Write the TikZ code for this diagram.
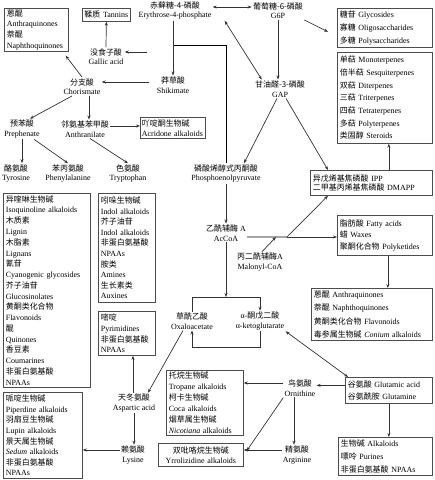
\documentclass[tikz,border=0pt]{standalone}
\usepackage{fontspec}
\setmainfont{Liberation Serif}
\newfontfamily\zhfont{Noto Sans CJK SC}
\newcommand\zh[1]{{\zhfont #1}}
\newcommand\linesp[1]{\fontsize{8}{#1}\selectfont}
\usetikzlibrary{arrows.meta}

\begin{document}
\begin{tikzpicture}[
       x=1bp, y=-1bp,
       line width=0.7bp,
       lbl/.style={
         align=center,
         inner sep=1bp,
         font=\linesp{9.5}
       },
       box/.style={
         draw=black!70,
         anchor=north west,
         align=left,
         inner xsep=2.5bp,
         inner ysep=1bp
       },
       arr/.style={draw=black!80, -{Stealth[length=4bp,width=3bp]}},
       dbl/.style={draw=black!80, {Stealth[length=4bp,width=3bp]}-{Stealth[length=4bp,width=3bp]}}
     ]
       \path[use as bounding box, fill=white] (0,0) rectangle (435,480);

       % sugars and shikimate pathway
       \node (e4p) at (175,10.5) [lbl]{\zh{赤藓糖-4-磷酸}\\Erythrose-4-phosphate};
       \node (g6p) at (278,10.5) [lbl]{\zh{葡萄糖-6-磷酸}\\G6P};
       \node (gap) at (280,89) [lbl]{\zh{甘油醛-3-磷酸}\\GAP};
       \node (gallic) at (106,56.5) [lbl]{\zh{没食子酸}\\Gallic acid};
       \node (shik) at (173,85) [lbl]{\zh{莽草酸}\\Shikimate};
       \node (chor) at (82,86.5) [lbl]{\zh{分支酸}\\Chorismate};
       \node (preph) at (22,129) [lbl]{\zh{预苯酸}\\Prephenate};
       \node (anthr) at (85,129) [lbl]{\zh{邻氨基苯甲酸}\\Anthranilate};
       \node (tyr) at (16,173.5) [lbl]{\zh{酪氨酸}\\Tyrosine};
       \node (phe) at (68,173.5) [lbl]{\zh{苯丙氨酸}\\Phenylalanine};
       \node (trp) at (128,173.5) [lbl]{\zh{色氨酸}\\Tryptophan};
       \node (pep) at (226,173.5) [lbl]{\zh{磷酸烯醇式丙酮酸}\\Phosphoenolpyruvate};
       \node (accoa) at (226,233) [lbl]{\zh{乙酰辅酶} A\\AcCoA};
       \node (malcoa) at (260,262) [lbl]{\zh{丙二酰辅酶}A\\Malonyl-CoA};
       \node (oaa) at (192,321) [lbl]{\zh{草酰乙酸}\\Oxaloacetate};
       \node (akg) at (260,321) [lbl]{α-\zh{酮戊二酸}\\α-ketoglutarate};
       \node (asp) at (134,403) [lbl]{\zh{天冬氨酸}\\Aspartic acid};
       \node (lys) at (133,455) [lbl]{\zh{赖氨酸}\\Lysine};
       \node (orn) at (300,388) [lbl]{\zh{鸟氨酸}\\Ornithine};
       \node (arg) at (297,455) [lbl]{\zh{精氨酸}\\Arginine};

       % product boxes
       \node (anthraA) at (4,8) [box,text width=59bp,minimum height=43bp,font=\linesp{10.8}]
         {\zh{蒽醌}\\Anthraquinones\\\zh{萘醌}\\Naphthoquinones};
       \node (tannin) at (82,8) [box,align=center,inner xsep=0.5bp,text width=47bp,minimum height=13bp,font=\linesp{9.5}]
         {\zh{鞣质}~Tannins};
       \node (acridone) at (140,117) [box,inner xsep=1.5bp,text width=62bp,minimum height=21bp,font=\linesp{10}]
         {\zh{吖啶酮生物碱}\\\mbox{Acridone alkaloids}};
       \node (glyco) at (337,8) [box,text width=90bp,minimum height=39bp,font=\linesp{13}]
         {\zh{糖苷} Glycosides\\\zh{寡糖} Oligosaccharides\\\zh{多糖} Polysaccharides};
       \node (terp) at (337,52) [box,text width=90bp,minimum height=91bp,font=\linesp{12.7}]
         {\zh{单萜} Monoterpenes\\\zh{倍半萜} Sesquiterpenes\\\zh{双萜} Diterpenes\\\zh{三萜} Triterpenes\\
          \zh{四萜} Tetraterpenes\\\zh{多萜} Polyterpenes\\\zh{类固醇} Steroids};
       \node (ipp) at (310,170) [box,text width=117bp,minimum height=25bp,font=\linesp{9.5}]
         {\zh{异戊烯基焦磷酸} IPP\\\zh{二甲基丙烯基焦磷酸} DMAPP};
       \node (fatty) at (337,215) [box,text width=90bp,minimum height=40bp,font=\linesp{11.5}]
         {\zh{脂肪酸} Fatty acids\\\zh{蜡} Waxes\\\zh{聚酮化合物} Polyketides};
       \node (anthraB) at (311,288) [box,text width=116bp,minimum height=52bp,font=\linesp{13.6}]
         {\zh{蒽醌} Anthraquinones\\\zh{萘醌} Naphthoquinones\\\zh{黄酮类化合物} Flavonoids\\
          \zh{毒参属生物碱} \textit{Conium} alkaloids};
       \node (glut) at (345,377) [box,text width=82bp,minimum height=26bp,font=\linesp{12}]
         {\zh{谷氨酸} Glutamic acid\\\zh{谷氨酰胺} Glutamine};
       \node (alk) at (338,437) [box,text width=89bp,minimum height=38bp,font=\linesp{13}]
         {\zh{生物碱} Alkaloids\\\zh{嘌呤} Purines\\\zh{非蛋白氨基酸} NPAAs};
       \node (leftbig) at (3,193) [box,text width=82bp,minimum height=194bp,font=\linesp{10.8}]
         {\zh{异喹啉生物碱}\\Isoquinoline alkaloids\\\zh{木质素}\\Lignin\\\zh{木脂素}\\Lignans\\
          \zh{氰苷}\\Cyanogenic glycosides\\\zh{芥子油苷}\\Glucosinolates\\\zh{黄酮类化合物}\\Flavonoids\\
          \zh{醌}\\Quinones\\\zh{香豆素}\\Coumarines\\\zh{非蛋白氨基酸}\\NPAAs};
       \node (indol) at (98,193) [box,text width=52bp,minimum height=109bp,font=\linesp{10.6}]
         {\zh{吲哚生物碱}\\Indol alkaloids\\\zh{芥子油苷}\\Indol alkaloids\\\zh{非蛋白氨基酸}\\NPAAs\\
          \zh{胺类}\\Amines\\\zh{生长素类}\\Auxines};
       \node (pyrim) at (98,311) [box,text width=52bp,minimum height=44bp,font=\linesp{10.8}]
         {\zh{嘧啶}\\Pyrimidines\\\zh{非蛋白氨基酸}\\NPAAs};
       \node (piper) at (3,392) [box,text width=74bp,minimum height=86bp,font=\linesp{10.7}]
         {\zh{哌啶生物碱}\\Piperdine alkaloids\\\zh{羽扇豆生物碱}\\Lupin alkaloids\\
          \zh{景天属生物碱}\\\textit{Sedum} alkaloids\\\zh{非蛋白氨基酸}\\NPAAs};
       \node (tropane) at (166,370) [box,text width=72bp,minimum height=65bp,font=\linesp{11}]
         {\zh{托烷生物碱}\\Tropane alkaloids\\\zh{柯卡生物碱}\\Coca alkaloids\\
          \zh{烟草属生物碱}\\\textit{Nicotiana} alkaloids};
       \node (pyrroliz) at (158,443) [box,align=center,text width=80bp,minimum height=23bp,font=\linesp{10}]
         {\zh{双吡咯烷生物碱}\\Yrrolizidine alkaloids};

       % free ends of connectors
       \coordinate (shj) at (173,45);
       \coordinate (galj) at (147,52);
       \coordinate (tl) at (192,297);
       \coordinate (bl) at (192,347);
       \coordinate (acj) at (287,237);
       \coordinate (malj) at (276,237);

       % connectors
       \draw[dbl] ([yshift=3.5bp]e4p.east) -- ([yshift=3.5bp]g6p.west);
       \draw[arr] (g6p.south) -- (g6p.south |- gap.north);
       \draw[dbl] ([xshift=12bp]e4p.south east) -- ([xshift=8bp]gap.north west);
       \draw[arr] (g6p.south east) -- ([xshift=-9bp,yshift=-4bp]glyco.west);
       \draw[arr] ([xshift=6bp]gap.south) -- ([xshift=18bp]ipp.north west);
       \draw[arr] ([xshift=-3bp]gap.south) -- ([xshift=18bp]pep.north);
       \draw[arr] (pep.south) -- (accoa.north);
       \draw (pep.north) |- (shj);
       \draw[arr] (shik.north |- e4p.south) -- (shik.north);
       \draw[arr] (galj) -- (galj -| gallic.east);
       \draw[arr] (gallic.north) -- (tannin.south);
       \draw[arr] ([xshift=-6bp,yshift=3bp]shik.west) -- ([yshift=3bp]shik.west -| chor.east);
       \draw[arr] (chor.north) -- ([xshift=-3bp,yshift=-4bp]anthraA.south east);
       \draw[arr] ([xshift=-10bp]chor.south) -- ([xshift=8bp]preph.north);
       \draw[arr] ([xshift=7bp]chor.south) -- ([xshift=7bp]chor.south |- anthr.north);
       \draw[arr] ([yshift=3bp]anthr.east) -- ([yshift=3bp]anthr.east -| acridone.west);
       \draw[arr] (preph.south) -- (preph.south |- tyr.north);
       \draw[arr] ([xshift=12bp]preph.south) -- (phe.north);
       \draw[arr] ([xshift=5bp]anthr.south) -- (trp.north);

       % acetyl-CoA and TCA
       \draw[arr] (accoa.south) -- (accoa.south |- tl);
       \draw[arr] (oaa.north) -- (tl) -- (tl -| akg.north) -- (akg.north);
       \draw[arr] (akg.south) -- (akg.south |- bl) -- (bl) -- (oaa.south);
       \draw ([yshift=-4bp]accoa.east) -- (acj);
       \draw[arr] (acj) -- ([xshift=18bp]ipp.south west);
       \draw[arr] (acj) -- (acj -| fatty.west);
       \draw[arr] ([xshift=2bp]malcoa.north) -- (malj);
       \draw[arr] ([xshift=4bp]terp.south |- ipp.north) -- ([xshift=4bp]terp.south);
       \draw[arr] ([xshift=3bp]fatty.south) -- ([xshift=3bp]fatty.south |- anthraB.north);

       % amino acids
       \draw[dbl] (akg.south east) -- ([xshift=3bp]glut.north west);
       \draw[arr] ([yshift=5bp]glut.west) -- ([yshift=5bp]glut.west -| orn.east);
       \draw[arr] ([xshift=-6bp]orn.south) -- ([xshift=-6bp]orn.south |- arg.north);
       \draw[arr] (glut.south) -- (glut.south |- alk.north);
       \draw[arr] ([yshift=5bp]orn.west) -- ([yshift=5bp]orn.west -| tropane.east);
       \draw[arr] (orn.south west) -- ([xshift=3bp,yshift=4bp]pyrroliz.east);
       \draw[arr] ([yshift=5bp]arg.west) -- ([yshift=5bp]arg.west -| pyrroliz.east);
       \draw[arr] ([xshift=-9bp]oaa.south) -- ([xshift=14bp]asp.north);
       \draw[arr] ([xshift=-1bp]asp.north) -- ([xshift=-1bp]asp.north |- pyrim.south);
       \draw[arr] (asp.south) -- (asp.south |- lys.north);
       \draw[arr] ([yshift=5bp]lys.west) -- ([yshift=5bp]lys.west -| piper.east);

\end{tikzpicture}
\end{document}
